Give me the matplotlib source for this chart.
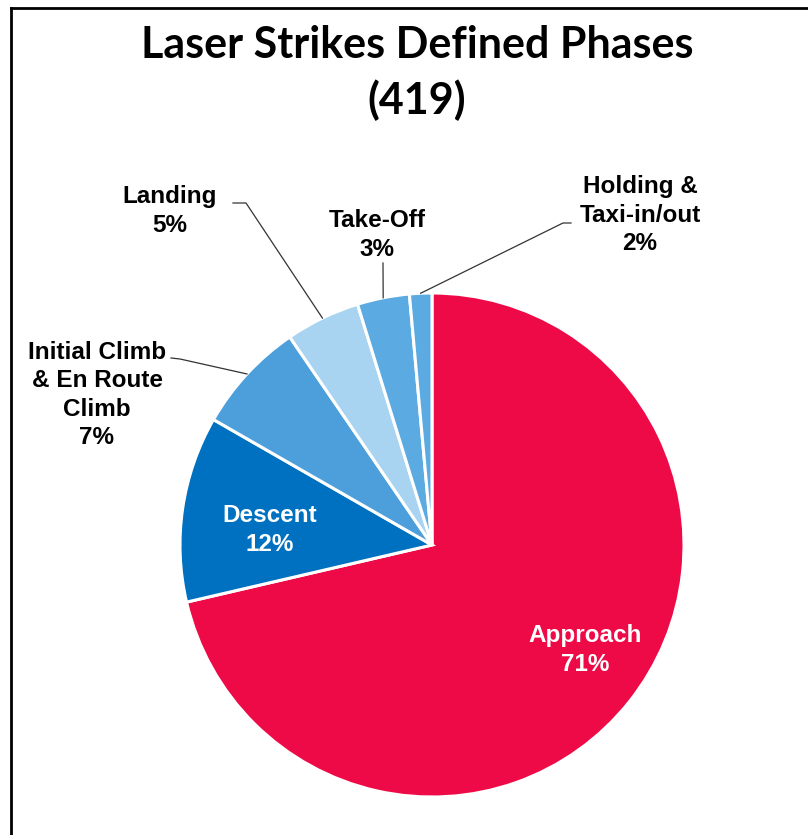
import numpy as np
import matplotlib
matplotlib.use("Agg")
import matplotlib.pyplot as plt
from matplotlib.lines import Line2D

# ---- data ----
phases = ["Approach", "Descent", "Initial Climb\n& En Route\nClimb", "Landing", "Take-Off",
          "Holding &\nTaxi-in/out"]
counts = [299, 50, 30, 20, 14, 6]
pct_labels = ["71%", "12%", "7%", "5%", "3%", "2%"]
colors = ["#EE0A46", "#0070C0", "#4C9FDB", "#A8D3F1", "#5BABE2", "#5BABE2"]
title = "Laser Strikes Defined Phases\n(419)"

W, H = 808, 835
DPI = 100
fig = plt.figure(figsize=(W / DPI, H / DPI), dpi=DPI)
ax = fig.add_axes([0, 0, 1, 1])


def Y(py):
    return H - py


cx, cy, R = 432, Y(545), 252
wedges, _ = ax.pie(counts, colors=colors, startangle=90, counterclock=False,
                   center=(cx, cy), radius=R, frame=True,
                   wedgeprops=dict(edgecolor="white", linewidth=2.2))
ax.set_xlim(0, W)
ax.set_ylim(0, H)
ax.set_aspect("equal")
ax.axis("off")

lab_font = dict(family="Liberation Sans", weight="bold", fontsize=17.5)
LS = 1.28

# inside labels
ax.text(585, Y(650), f"{phases[0]}\n{pct_labels[0]}", color="white", ha="center",
        va="center", linespacing=LS, **lab_font)
ax.text(270, Y(530), f"{phases[1]}\n{pct_labels[1]}", color="white", ha="center",
        va="center", linespacing=LS, **lab_font)


def rim(i, frac=0.5):
    w = wedges[i]
    a = np.deg2rad(w.theta1 + frac * (w.theta2 - w.theta1))
    return cx + R * np.cos(a), cy + R * np.sin(a)


# outside labels
ax.text(97, Y(395), f"{phases[2]}\n{pct_labels[2]}", color="black", ha="center",
        va="center", linespacing=LS, **lab_font)
ax.text(170, Y(211), f"{phases[3]}\n{pct_labels[3]}", color="black", ha="center",
        va="center", linespacing=LS, **lab_font)
ax.text(377, Y(235), f"{phases[4]}\n{pct_labels[4]}", color="black", ha="center",
        va="center", linespacing=LS, **lab_font)
ax.text(640, Y(215), f"{phases[5]}\n{pct_labels[5]}", color="black", ha="center",
        va="center", linespacing=LS, **lab_font)

leaders = [
    (2, [(171, 358), (180, 359)]),
    (3, [(233, 203), (246, 203)]),
    (4, [(383, 263)]),
    (5, [(571, 223), (563, 223)]),
]
for i, pts in leaders:
    xs = [p[0] for p in pts]
    ys = [Y(p[1]) for p in pts]
    ex, ey = rim(i)
    xs.append(ex)
    ys.append(ey)
    ax.add_line(Line2D(xs, ys, color="#333333", lw=0.9))

# title
fig.text(417 / W, 1 - 73 / H, title, ha="center", va="center",
         family="Lato", weight="bold", fontsize=31, linespacing=1.4)

# frame (left and top edges)
fig.add_artist(Line2D([11 / W, 11 / W], [0, 1 - 8 / H], color="black", lw=2.0,
                      transform=fig.transFigure))
fig.add_artist(Line2D([11 / W, 1], [1 - 8 / H, 1 - 8 / H], color="black", lw=2.0,
                      transform=fig.transFigure))

fig.savefig("out.png", dpi=DPI, facecolor="white")
